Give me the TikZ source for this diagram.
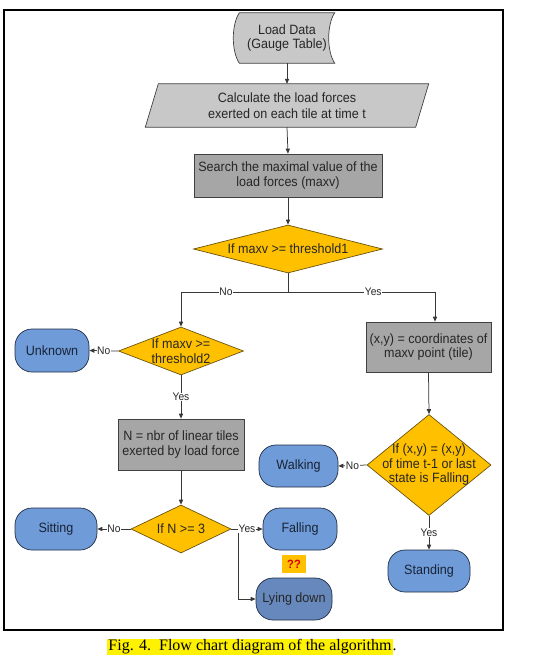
\documentclass[tikz,border=0pt]{standalone}
\usepackage{fontspec}
\setmainfont{Liberation Sans}[FakeStretch=0.93]
\newfontfamily\capfont{Liberation Serif}
\usetikzlibrary{shapes.geometric,arrows.meta,calc}
\definecolor{lgray}{HTML}{C8C8C8}
\definecolor{dgray}{HTML}{A6A6A6}
\definecolor{dia}{HTML}{FFC000}
\definecolor{diab}{HTML}{6B5410}
\definecolor{oval}{HTML}{6F9BD8}
\definecolor{ovald}{HTML}{6688BC}
\definecolor{ovalb}{HTML}{1E2C44}
\definecolor{ink}{HTML}{262626}
\definecolor{conn}{HTML}{383838}
\begin{document}
\begin{tikzpicture}[x=1pt,y=-1pt,
  txt/.style={font=\fontsize{13.5}{14.5}\selectfont, text=ink, align=center, inner sep=0pt},
  procbox/.style={txt, draw=black!75, line width=0.7pt, fill=dgray, minimum width=#1},
  decis/.style={shape=diamond, draw=diab, line width=0.7pt, fill=dia, inner sep=0pt},
  term/.style={txt, draw=ovalb, line width=0.7pt, fill=oval, rounded corners=17pt, text=ovalb!80!black},
  lbl/.style={font=\fontsize{11}{12}\selectfont, text=ink, fill=white, inner sep=0.6pt},
  conline/.style={draw=conn, line width=0.75pt},
  arr/.style={conline, -{Triangle[length=5pt,width=4.2pt]}}
]
\useasboundingbox (0,0) rectangle (541,664);
% frame
\draw[black, line width=1.3pt] (4,10) rectangle (503,630);

% Load data (stored data)
\node[txt, minimum width=95, minimum height=50] (ld) at (287,38) {Load Data\\(Gauge Table)};
\draw[draw=black!75, line width=0.7pt, fill=lgray]
  (ld.north west) -- (ld.north east)
  .. controls ($(ld.north east)+(-8,12)$) and ($(ld.south east)+(-8,-12)$) .. (ld.south east)
  -- (ld.south west)
  .. controls ($(ld.south west)+(-8,-12)$) and ($(ld.north west)+(-8,12)$) .. (ld.north west) -- cycle;
\node[txt] at (ld) {Load Data\\(Gauge Table)};

% parallelogram
\node[txt, minimum width=270, minimum height=43] (calc) at (287,105.5) {};
\draw[draw=black!75, line width=0.7pt, fill=lgray]
  ($(calc.north west)+(6.5,0)$) -- ($(calc.north east)+(6.5,0)$)
  -- ($(calc.south east)+(-6.5,0)$) -- ($(calc.south west)+(-6.5,0)$) -- cycle;
\node[txt] at (calc) {Calculate the load forces\\[1pt]exerted on each tile at time t};

% search
\node[procbox=188, minimum height=43] (search) at (288,175.5) {Search the maximal value of the\\load forces (maxv)};

% decision 1
\node[decis, minimum width=189, minimum height=48] (d1) at (288,249) {};
\node[txt] at (d1) {If maxv >= threshold1};
\coordinate (jn) at (288,292);

% decision 2
\node[decis, minimum width=125, minimum height=48] (d2) at (181,351) {};
\node[txt] at (d2) {If maxv >=\\threshold2};

% unknown
\node[term, minimum width=74, minimum height=43] (unk) at (52,350.5) {Unknown};

% xy box
\node[procbox=125, minimum height=50] (xy) at (428.5,347) {(x,y) = coordinates of\\maxv point (tile)};

% decision 3
\node[decis, minimum width=124, minimum height=101] (d3) at (429,465) {};
\node[txt] at (d3) {If (x,y) = (x,y)\\of time t-1 or last\\state is Falling};

% walking, standing
\node[term, minimum width=79, minimum height=42] (walk) at (298.5,466) {Walking};
\node[term, minimum width=82, minimum height=42] (stand) at (429,571) {Standing};

% N box
\node[procbox=126, minimum height=51] (nbox) at (181,444.5) {N = nbr of linear tiles\\exerted by load force};

% decision 4
\node[decis, minimum width=100, minimum height=48] (d4) at (181,529) {};
\node[txt] at (d4) {If N >= 3};

\node[term, minimum width=82, minimum height=42] (sit) at (56,529) {Sitting};
\node[term, minimum width=74, minimum height=42] (fall) at (300,529) {Falling};
\node[term, fill=ovald, minimum width=76, minimum height=42, text=black!85] (lie) at (294,599) {Lying down};
\node[font=\fontsize{12}{12}\selectfont\bfseries, text=red!85!black, fill=dia, minimum width=24, minimum height=18, inner sep=0pt] (qq) at (294,564) {??};

% connectors
\draw[arr] (ld.south) -- (calc.north);
\draw[arr] (calc.south) -- (search.north);
\draw[arr] (search.south) -- (d1.north);
\draw[conline] (d1.south) -- (jn);
\draw[arr] (jn) -| node[lbl, pos=0.29] {No} (d2.north);
\draw[arr] (jn) -| node[lbl, pos=0.29] {Yes} ([xshift=6.5pt]xy.north);
\draw[arr] (d2.west) -- node[lbl] {No} (unk.east);
\draw[arr] (d2.south) -- node[lbl] {Yes} (nbox.north);
\draw[arr] (xy.south) -- (d3.north);
\draw[arr] (d3.west) -- node[lbl] {No} (walk.east);
\draw[arr] (d3.south) -- node[lbl] {Yes} (stand.north);
\draw[arr] (nbox.south) -- (d4.north);
\draw[arr] (d4.west) -- node[lbl] {No} (sit.east);
\coordinate (br) at ($(d4.east)!0.22!(fall.west)$);
\draw[arr] (br) |- (lie.west);
\draw[arr] (d4.east) -- node[lbl] {Yes} (fall.west);

% caption
\node[font=\capfont\fontsize{16}{16}\selectfont, inner sep=0pt] (cap) at (252,647) {\setlength{\fboxsep}{1pt}\colorbox{yellow}{Fig. 4.\ \ Flow chart diagram of the algorithm}.};
\end{tikzpicture}
\end{document}
